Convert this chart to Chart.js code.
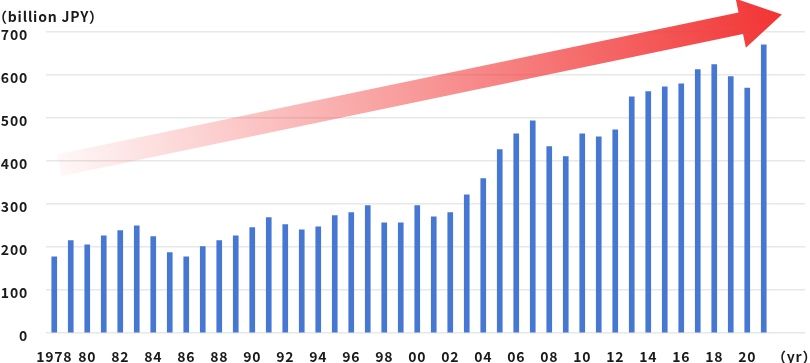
<!DOCTYPE html>
<html>
<head>
<meta charset="utf-8">
<script src="https://cdn.jsdelivr.net/npm/chart.js@4"></script>
<style>
  html,body{margin:0;padding:0;background:#fff;}
  #wrap{width:810px;height:363px;}
</style>
</head>
<body>
<div id="wrap"><canvas id="c"></canvas></div>
<script>
const years = [1978,1979,1980,1981,1982,1983,1984,1985,1986,1987,1988,1989,1990,1991,1992,1993,1994,1995,1996,1997,1998,1999,2000,2001,2002,2003,2004,2005,2006,2007,2008,2009,2010,2011,2012,2013,2014,2015,2016,2017,2018,2019,2020,2021];
const values = [177,215,205,226,238,249,224,187,177,201,215,226,245,268,252,240,247,273,280,296,256,256,296,270,280,321,359,426,463,493,433,410,463,456,472,549,561,572,579,612,624,596,569,670];
const tickLabels = ['1978','','80','','82','','84','','86','','88','','90','','92','','94','','96','','98','','00','','02','','04','','06','','08','','10','','12','','14','','16','','18','','20','','','（yr）\u2005'];
const yTicks = [0,100,200,300,400,500,600,700];

const font = {family:'"Noto Sans CJK JP","Noto Sans",sans-serif', size:14, weight:'bold'};

// slightly spaced lettering like the original
const spacing = {
  id:'spacing',
  beforeUpdate(chart){ chart.ctx.letterSpacing = '0.8px'; },
  beforeDraw(chart){ chart.ctx.letterSpacing = '0.8px'; }
};

// big gradient arrow, anchored to the scales (tail ~390 at the first bar, tip ~740 past the last)
const arrowPlugin = {
  id:'arrow',
  afterDatasetsDraw(chart){
    const {ctx, scales:{x,y}} = chart;
    const sx = x.getPixelForValue(0) + 5, sy = y.getPixelForValue(390);
    const tx = x.getPixelForValue(44.1), ty = y.getPixelForValue(740);
    const dx = tx - sx, dy = ty - sy, len = Math.hypot(dx,dy);
    const ux = dx/len, uy = dy/len, nx = -uy, ny = ux;
    const headLen = 42, headW = 25, shaftW = 11;
    const bx = tx - ux*headLen, by = ty - uy*headLen;
    const g = ctx.createLinearGradient(sx,sy,tx,ty);
    g.addColorStop(0,'rgba(242,60,60,0.04)');
    g.addColorStop(1,'rgba(242,52,52,1)');
    ctx.save();
    ctx.fillStyle = g;
    ctx.beginPath();
    ctx.moveTo(sx+nx*shaftW, sy+ny*shaftW);
    ctx.lineTo(bx+nx*shaftW, by+ny*shaftW);
    ctx.lineTo(bx+nx*headW, by+ny*headW);
    ctx.lineTo(tx, ty);
    ctx.lineTo(bx-nx*headW, by-ny*headW);
    ctx.lineTo(bx-nx*shaftW, by-ny*shaftW);
    ctx.lineTo(sx-nx*shaftW, sy-ny*shaftW);
    ctx.closePath();
    ctx.fill();
    ctx.restore();
  }
};

const data = tickLabels.map((_, i) => i < values.length ? values[i] : null);

new Chart(document.getElementById('c'), {
  type:'bar',
  data:{
    labels: tickLabels,
    datasets:[{data, backgroundColor:'#4678d3', barThickness:5}]
  },
  options:{
    responsive:true,
    maintainAspectRatio:false,
    animation:false,
    layout:{padding:{left:-7,right:5,top:0,bottom:0}},
    plugins:{
      legend:{display:false},
      tooltip:{enabled:false},
      title:{display:true, text:'（billion JPY）', align:'start', color:'#1a1a1a', font, padding:{top:8,bottom:7}}
    },
    scales:{
      x:{
        grid:{display:false, drawTicks:false},
        border:{display:false},
        ticks:{autoSkip:false, maxRotation:0, color:'#1a1a1a', font, padding:15},
        afterFit(s){ s.paddingLeft = 0; s.paddingRight = 0; s.height = 30; }
      },
      y:{
        min:0, max:700,
        afterBuildTicks(s){ s.ticks = yTicks.map(v => ({value:v})); },
        grid:{color:'#e8e8e8', lineWidth:1.5, drawTicks:false},
        border:{display:false},
        ticks:{color:'#1a1a1a', font, padding:18, labelOffset:3},
        afterFit(s){ s.width = 53; s.paddingTop = 0; s.paddingBottom = 0; }
      }
    }
  },
  plugins:[spacing, arrowPlugin]
});
</script>
</body>
</html>
